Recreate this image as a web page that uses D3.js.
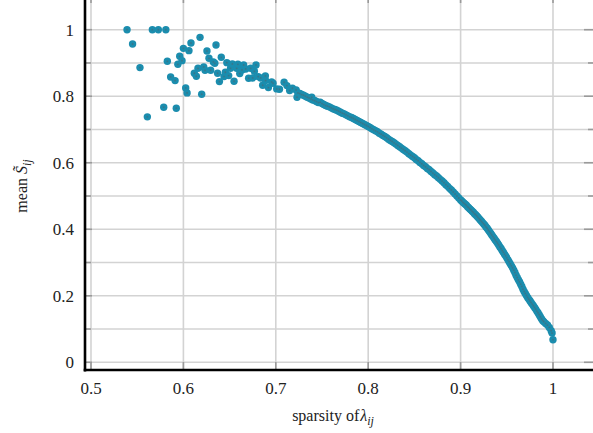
<!DOCTYPE html>
<html><head><meta charset="utf-8">
<script src="https://cdn.jsdelivr.net/npm/d3@7"></script>
<style>body{margin:0;background:#fff;} svg{display:block;}</style>
</head><body>
<svg id="c" width="593" height="433"></svg>
<script>
// scattered low-sparsity points + dense curve
const sparsity = [
0.539,0.545,0.553,0.561,0.5664,0.5729,0.581,0.5787,0.5923,0.5826,0.5862,0.591,0.594,0.596,0.5985,0.600,0.6025,0.604,0.606,0.6082,
0.6118,0.614,0.6158,0.618,0.6198,0.622,0.6234,0.6255,0.6277,0.6295,0.6324,0.634,0.6353,0.637,0.639,0.641,0.644,0.6454,0.647,0.649,
0.651,0.653,0.6548,0.6577,0.659,0.661,0.6634,0.6652,0.6674,0.6706,0.6728,0.675,0.6768,0.6786,0.681,0.6836,0.6858,0.6887,0.689,0.692,
0.6955,0.697,0.701,0.704,0.709,0.712,0.715,0.718,0.722,0.723,0.7389,0.748,
0.724,0.728,0.732,0.736,0.740,0.744,0.752,0.756,0.760,0.764,0.768,0.772,0.776,0.780,0.784,0.788,0.792,0.796,0.800,
0.804,0.808,0.812,0.816,0.820,0.824,0.828,0.832,0.836,0.840,0.844,0.848,0.852,0.856,0.860,0.864,0.868,0.872,0.876,0.880,
0.884,0.888,0.892,0.896,0.900,0.9025,0.905,0.9075,0.910,0.9125,0.915,0.9175,0.920,0.9225,0.925,0.9275,0.930,0.9325,0.935,
0.9375,0.940,0.9425,0.945,0.9475,0.950,0.9525,0.955,0.9575,0.960,0.9625,0.965,0.9675,0.970,0.9725,0.975,0.9775,0.980,
0.9825,0.985,0.9875,0.990,0.992,0.994,0.996,0.998,0.999,1.000,
0.726,0.730,0.734,0.738,0.742,0.746,0.750,0.754,0.758,0.762,0.766,0.770,0.774,0.778,0.782,0.786,0.790,0.794,0.798,
0.802,0.806,0.810,0.814,0.818,0.822,0.826,0.830,0.834,0.838,0.842,0.846,0.850,0.854,0.858,0.862,0.866,0.870,0.874,0.878,
0.882,0.886,0.890,0.894,0.898,
0.90125,0.90375,0.90625,0.90875,0.91125,0.91375,0.91625,0.91875,0.92125,0.92375,0.92625,0.92875,0.93125,0.93375,0.93625,
0.93875,0.94125,0.94375,0.94625,0.94875,0.95125,0.95375,0.95625,0.95875,0.96125,0.96375,0.96625,0.96875,0.97125,0.97375,
0.97625,0.97875,0.98125,0.98375,0.98625,0.98875
];
const meanS = [
1.0,0.957,0.886,0.738,1.0,1.0,1.0,0.767,0.764,0.905,0.858,0.847,0.896,0.920,0.907,0.944,0.825,0.810,0.937,0.960,
0.869,0.860,0.884,0.977,0.806,0.888,0.878,0.936,0.914,0.878,0.903,0.899,0.954,0.869,0.844,0.917,0.859,0.872,0.901,0.862,
0.884,0.897,0.845,0.884,0.896,0.868,0.879,0.894,0.882,0.854,0.884,0.855,0.875,0.894,0.859,0.855,0.833,0.861,0.847,0.826,
0.843,0.839,0.822,0.821,0.842,0.832,0.817,0.824,0.819,0.797,0.797,0.782,
0.810,0.805,0.800,0.795,0.789,0.784,0.775,0.770,0.765,0.760,0.755,0.749,0.744,0.738,0.733,0.727,0.721,0.715,0.709,
0.702,0.696,0.689,0.682,0.675,0.667,0.660,0.652,0.644,0.636,0.627,0.619,0.610,0.601,0.592,0.583,0.574,0.564,0.555,0.545,
0.534,0.523,0.512,0.500,0.488,0.481,0.475,0.468,0.461,0.454,0.447,0.440,0.432,0.424,0.416,0.407,0.398,0.388,0.378,
0.368,0.358,0.347,0.336,0.325,0.314,0.302,0.290,0.277,0.262,0.248,0.235,0.220,0.207,0.195,0.185,0.175,0.165,
0.154,0.143,0.131,0.122,0.117,0.112,0.105,0.095,0.088,0.068,
0.808,0.803,0.797,0.792,0.787,0.781,0.778,0.772,0.768,0.762,0.758,0.752,0.747,0.741,0.736,0.730,0.724,0.718,0.712,
0.706,0.699,0.693,0.686,0.679,0.671,0.664,0.656,0.648,0.640,0.632,0.623,0.615,0.606,0.597,0.588,0.579,0.569,0.560,0.550,
0.540,0.529,0.518,0.506,0.494,
0.485,0.478,0.472,0.465,0.458,0.451,0.444,0.436,0.428,0.420,0.412,0.403,0.393,0.383,0.373,
0.363,0.353,0.342,0.331,0.320,0.308,0.296,0.284,0.270,0.255,0.242,0.228,0.213,0.201,0.190,
0.180,0.170,0.160,0.149,0.137,0.126
];
const xTicks = [0.5,0.6,0.7,0.8,0.9,1.0];
const xTickLabels = ["0.5","0.6","0.7","0.8","0.9","1"];
const yGrid = [0,0.1,0.2,0.3,0.4,0.5,0.6,0.7,0.8,0.9,1.0];
const yTicks = [0,0.2,0.4,0.6,0.8,1.0];
const yTickLabels = ["0","0.2","0.4","0.6","0.8","1"];

const svg = d3.select("#c");
const x = d3.scaleLinear().domain([0.5,1]).range([91,553]);
const y = d3.scaleLinear().domain([0,1]).range([362.3,29.7]);
const L = 85, R = 593, T = 0, B = 370;
const font = "'Liberation Serif', 'Times New Roman', serif";

const g = svg.append("g");
g.selectAll(".hg").data(yGrid).enter().append("line")
  .attr("x1",L).attr("x2",R).attr("y1",d=>y(d)).attr("y2",d=>y(d))
  .attr("stroke","#d3d3d3").attr("stroke-width",1.6);
g.selectAll(".vg").data(xTicks).enter().append("line")
  .attr("x1",d=>x(d)).attr("x2",d=>x(d)).attr("y1",T).attr("y2",B)
  .attr("stroke","#d3d3d3").attr("stroke-width",1.6);

const tc = "#9a9a9a";
const isMajor = d => yTicks.some(t=>Math.abs(t-d)<1e-9);
g.selectAll(".lt").data(yGrid).enter().append("line")
  .attr("x1",L).attr("x2",d=>L+(isMajor(d)?7:6)).attr("y1",d=>y(d)).attr("y2",d=>y(d))
  .attr("stroke",tc).attr("stroke-width",1.6);
g.selectAll(".rt").data(yGrid).enter().append("line")
  .attr("x1",d=>isMajor(d)?584:588).attr("x2",R).attr("y1",d=>y(d)).attr("y2",d=>y(d))
  .attr("stroke",tc).attr("stroke-width",1.6);
g.selectAll(".bt").data(xTicks).enter().append("line")
  .attr("x1",d=>x(d)).attr("x2",d=>x(d)).attr("y1",B-8).attr("y2",B)
  .attr("stroke",tc).attr("stroke-width",1.6);
g.selectAll(".tt").data(xTicks).enter().append("line")
  .attr("x1",d=>x(d)).attr("x2",d=>x(d)).attr("y1",T).attr("y2",T+3)
  .attr("stroke",tc).attr("stroke-width",1.6);

const pts = sparsity.map((s,i)=>({s, m: meanS[i]}));
svg.append("g").selectAll("circle").data(pts).enter().append("circle")
  .attr("cx",d=>x(d.s)).attr("cy",d=>y(d.m)).attr("r",3.7)
  .attr("fill","#1b8dae");
svg.append("g").selectAll("circle").data(pts).enter().append("circle")
  .attr("cx",d=>x(d.s)).attr("cy",d=>y(d.m)).attr("r",0.9)
  .attr("fill","#4f6670").attr("opacity",0.6);

svg.append("line").attr("x1",L).attr("x2",L).attr("y1",T).attr("y2",B+1.5)
  .attr("stroke","#000").attr("stroke-width",2.6);
svg.append("line").attr("x1",L-1.3).attr("x2",R).attr("y1",B).attr("y2",B)
  .attr("stroke","#000").attr("stroke-width",2.6);

svg.append("g").selectAll("text").data(xTicks).enter().append("text")
  .attr("x",d=>x(d)).attr("y",393.5).attr("text-anchor","middle")
  .attr("font-family",font).attr("font-size",17).attr("fill","#222")
  .text((d,i)=>xTickLabels[i]);
svg.append("g").selectAll("text").data(yTicks).enter().append("text")
  .attr("x",74).attr("y",d=>y(d)+6).attr("text-anchor","end")
  .attr("font-family",font).attr("font-size",17).attr("fill","#222")
  .text((d,i)=>yTickLabels[i]);

const xt = svg.append("text").attr("x",333).attr("y",421).attr("text-anchor","middle")
  .attr("font-family",font).attr("font-size",16).attr("fill","#222");
xt.append("tspan").text("sparsity of");
xt.append("tspan").attr("font-style","italic").attr("dx",1).text("λ");
xt.append("tspan").attr("font-style","italic").attr("font-size",12).attr("dy",4).text("ij");

const yt = svg.append("text").attr("transform","translate(27,186) rotate(-90)")
  .attr("text-anchor","middle")
  .attr("font-family",font).attr("font-size",16).attr("fill","#222");
yt.append("tspan").text("mean ");
yt.append("tspan").attr("font-style","italic").text("S\u0303");
yt.append("tspan").attr("font-style","italic").attr("font-size",12).attr("dy",4).text("ij");
</script>
</body></html>
